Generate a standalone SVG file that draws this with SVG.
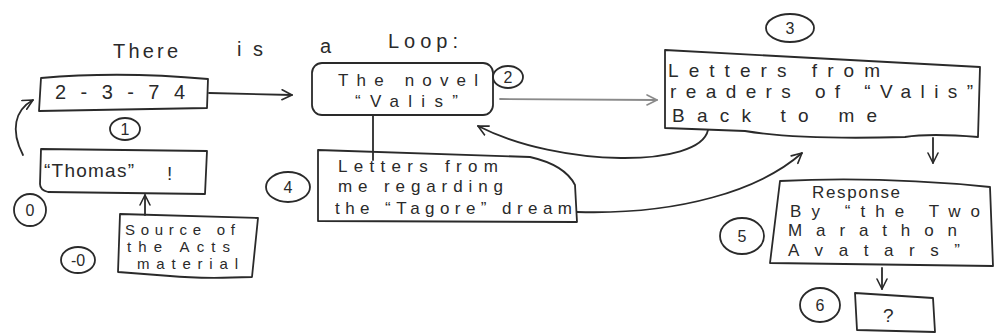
<svg xmlns="http://www.w3.org/2000/svg" width="994" height="335" viewBox="0 0 994 335">
<style>
.box{fill:none;stroke:#2a2a2a;stroke-width:1.8;stroke-linejoin:round}
.ln{fill:none;stroke:#2a2a2a;stroke-width:1.8;stroke-linecap:round}
.faint{fill:none;stroke:#8a8a8a;stroke-width:1.8;stroke-linecap:round}
.t{font-family:"Liberation Sans",Arial,sans-serif;font-size:19px;fill:#2a2a2a}
.m{font-family:"Liberation Sans",Arial,sans-serif;font-size:17px;fill:#2a2a2a}
.s{font-family:"Liberation Sans",Arial,sans-serif;font-size:15px;fill:#2a2a2a}
.title{font-family:"Liberation Sans",Arial,sans-serif;font-size:20px;fill:#2a2a2a}
.num{font-family:"Liberation Sans",Arial,sans-serif;font-size:16px;fill:#2a2a2a;text-anchor:middle}
.circ{fill:none;stroke:#2a2a2a;stroke-width:1.8}
</style>
<defs>
<marker id="ah" viewBox="0 0 12 12" refX="11" refY="6" markerWidth="12" markerHeight="12" markerUnits="userSpaceOnUse" orient="auto">
<path d="M1,1 L11,6 L1,11" fill="none" stroke="#2a2a2a" stroke-width="1.6" stroke-linecap="round" stroke-linejoin="round"/>
</marker>
<marker id="ahf" viewBox="0 0 12 12" refX="11" refY="6" markerWidth="12" markerHeight="12" markerUnits="userSpaceOnUse" orient="auto">
<path d="M1,1 L11,6 L1,11" fill="none" stroke="#8a8a8a" stroke-width="1.6" stroke-linecap="round" stroke-linejoin="round"/>
</marker>
</defs>
<rect width="994" height="335" fill="#ffffff"/>

<g id="title">
<text class="title" x="113" y="58" textLength="65" lengthAdjust="spacing">There</text>
<text class="title" x="237" y="56" textLength="26" lengthAdjust="spacing">is</text>
<text class="title" x="320" y="53">a</text>
<text class="title" x="388" y="48" textLength="70" lengthAdjust="spacing">Loop:</text>
</g>

<g id="connectors">
<path class="ln" d="M209,93 L292,95" marker-end="url(#ah)"/>
<path class="faint" d="M500,99 L657,100" marker-end="url(#ahf)"/>
<path class="ln" d="M708,130 C700,168 560,168 478,126" marker-end="url(#ah)"/>
<path class="ln" d="M373,115 L373,160"/>
<path class="ln" d="M577,212 C680,215 760,190 802,153" marker-end="url(#ah)"/>
<path class="ln" d="M933,138 L933,163" marker-end="url(#ah)"/>
<path class="ln" d="M882,268 L882,289" marker-end="url(#ah)"/>
<path class="ln" d="M23,155 C10,130 15,110 33,100" marker-end="url(#ah)"/>
<path class="ln" d="M145,215 L145,195" marker-end="url(#ah)"/>
</g>

<g id="node0">
<path class="box" d="M41,149 L207,151 L205,194 L48,192 Q40,190 40,184 Z"/>
<text class="t" x="44" y="177" textLength="90" lengthAdjust="spacing">“Thomas”</text>
<text class="t" x="167" y="180">!</text>
<ellipse class="circ" cx="30" cy="210" rx="16" ry="16"/>
<text class="num" x="30" y="216">0</text>
</g>

<g id="node1">
<path class="box" d="M41,78 Q120,71 208,79 L207,108 L39,111 Z"/>
<text class="t" x="55" y="99" textLength="130" lengthAdjust="spacing" style="font-size:20px">2-3-74</text>
<ellipse class="circ" cx="125" cy="129" rx="15" ry="11"/>
<text class="num" x="125" y="135">1</text>
</g>

<g id="node2">
<rect class="box" x="312" y="63" width="181" height="52" rx="10"/>
<text class="m" x="338" y="86" textLength="140" lengthAdjust="spacing">The novel</text>
<text class="m" x="355" y="107" textLength="103" lengthAdjust="spacing">“Valis”</text>
<ellipse class="circ" cx="508" cy="77" rx="15" ry="11"/>
<text class="num" x="508" y="83">2</text>
</g>

<g id="node3">
<path class="box" d="M665,50 L980,67 L978,137 Q930,133 905,137 Q800,140 745,131 L665,128 Z"/>
<text class="t" x="668" y="77" textLength="212" lengthAdjust="spacing">Letters from</text>
<text class="t" x="670" y="98" textLength="303" lengthAdjust="spacing">readers of “Valis”</text>
<text class="t" x="672" y="122" textLength="205" lengthAdjust="spacing">Back to me</text>
<ellipse class="circ" cx="790" cy="28" rx="24" ry="14"/>
<text class="num" x="790" y="34">3</text>
</g>

<g id="node4">
<path class="box" d="M318,150 L530,157 Q565,165 575,185 L577,222 L318,221 Z"/>
<text class="m" x="338" y="172" textLength="160" lengthAdjust="spacing">Letters from</text>
<text class="m" x="338" y="192" textLength="165" lengthAdjust="spacing">me regarding</text>
<text class="m" x="335" y="214" textLength="237" lengthAdjust="spacing">the “Tagore” dream</text>
<ellipse class="circ" cx="288" cy="187" rx="22" ry="15"/>
<text class="num" x="288" y="193">4</text>
</g>

<g id="node5">
<path class="box" d="M780,181 Q880,176 990,187 L993,266 L770,263 Z"/>
<text class="m" x="812" y="198" textLength="88" lengthAdjust="spacing">Response</text>
<text class="m" x="790" y="217" textLength="190" lengthAdjust="spacing">By “the Two</text>
<text class="m" x="788" y="236" textLength="169" lengthAdjust="spacing">Marathon</text>
<text class="m" x="788" y="256" textLength="172" lengthAdjust="spacing">Avatars”</text>
<ellipse class="circ" cx="742" cy="236" rx="22" ry="18"/>
<text class="num" x="742" y="242">5</text>
</g>

<g id="node6">
<path class="box" d="M855,293 L933,298 L935,332 L857,330 Z"/>
<text class="t" x="883" y="322">?</text>
<ellipse class="circ" cx="820" cy="305" rx="20" ry="17"/>
<text class="num" x="820" y="311">6</text>
</g>

<g id="nodeSource">
<path class="box" d="M120,214 L258,218 L252,277 Q200,279 170,276 L118,272 Z"/>
<text class="s" x="125" y="235" textLength="110" lengthAdjust="spacing">Source of</text>
<text class="s" x="127" y="252" textLength="103" lengthAdjust="spacing">the Acts</text>
<text class="s" x="137" y="269" textLength="101" lengthAdjust="spacing">material</text>
<ellipse class="circ" cx="78" cy="260" rx="17" ry="13"/>
<text class="num" x="78" y="266">-0</text>
</g>
</svg>
